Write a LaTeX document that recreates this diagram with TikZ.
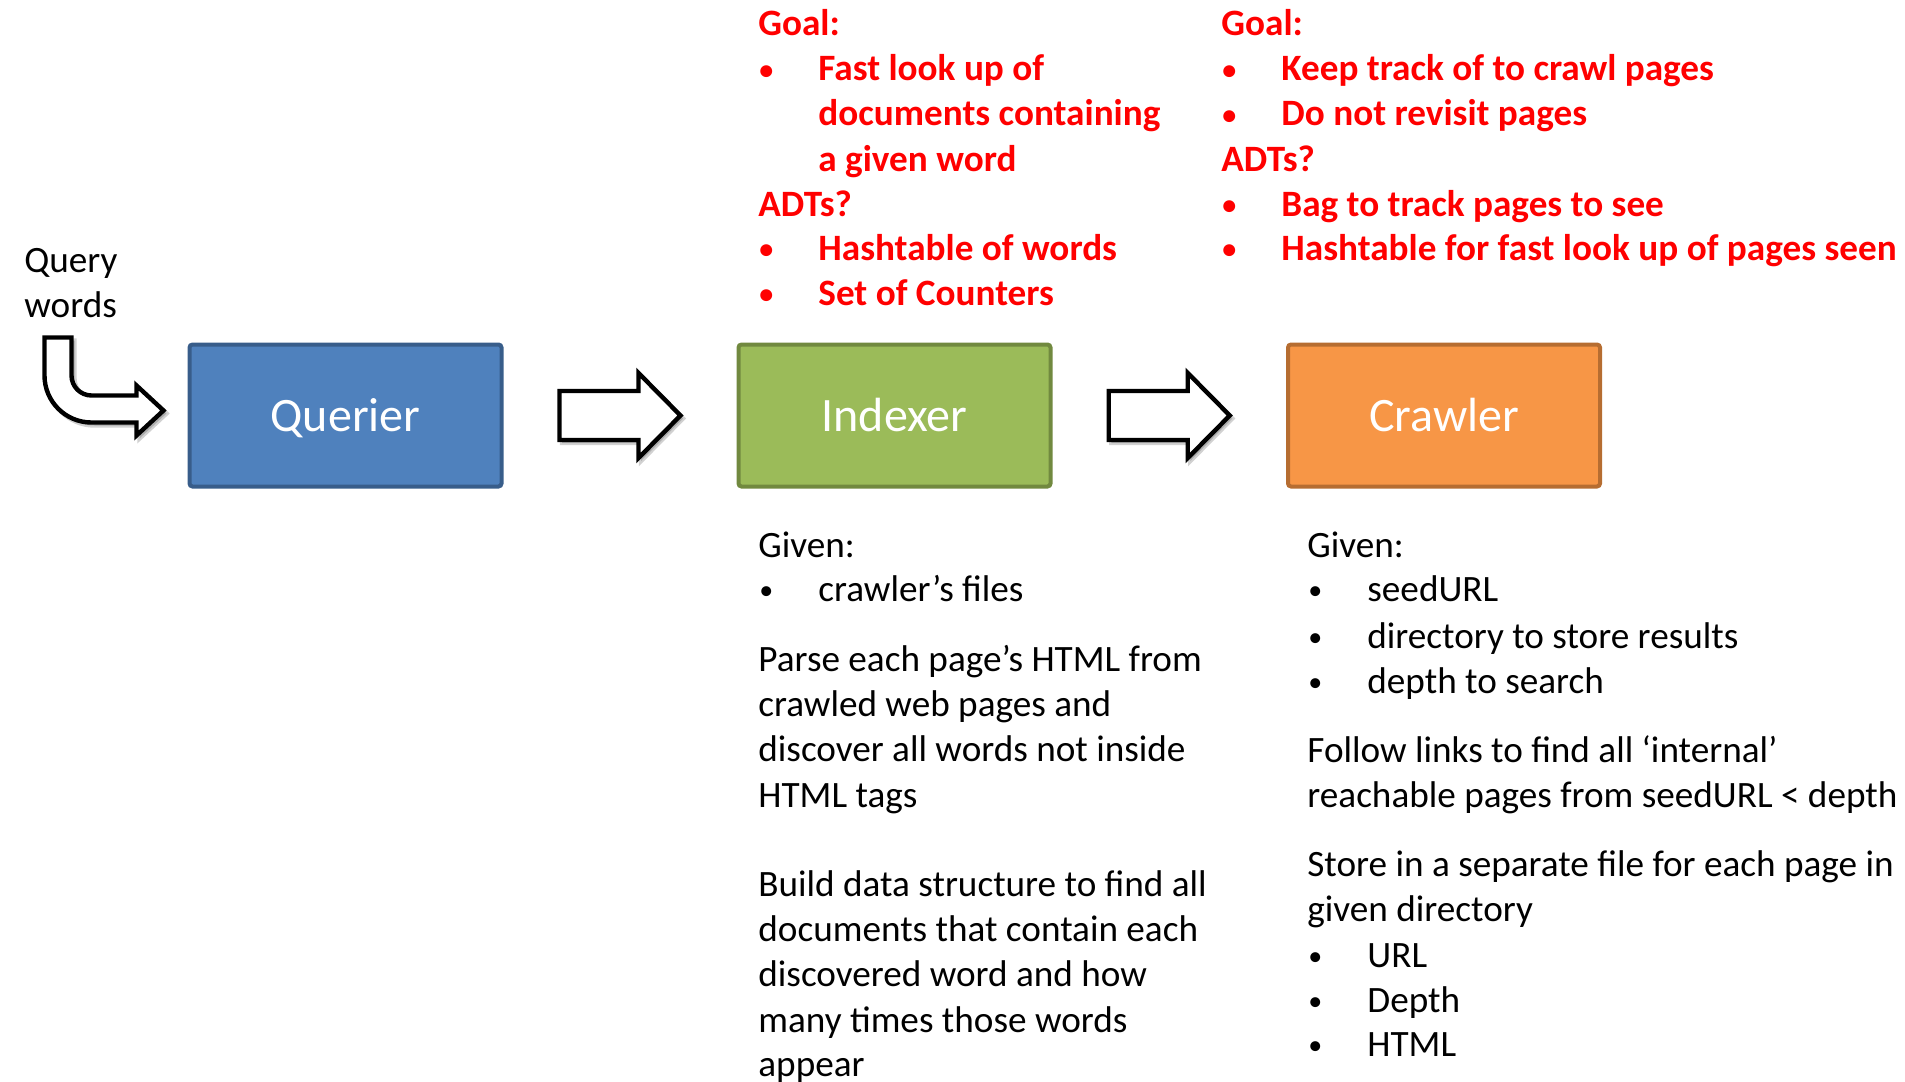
\documentclass[tikz,border=0pt]{standalone}
\usepackage{fontspec}
\setmainfont{Carlito}
\usetikzlibrary{calc}
\definecolor{qfill}{HTML}{4F81BD}\definecolor{qline}{HTML}{385D8A}
\definecolor{ifill}{HTML}{9BBB59}\definecolor{iline}{HTML}{71893F}
\definecolor{cfill}{HTML}{F79646}\definecolor{cline}{HTML}{B66D31}
\definecolor{goalred}{HTML}{FF0000}
\newcommand{\bul}{\makebox[30pt][l]{\hspace{0.5pt}\raisebox{0.8pt}{\fontsize{14}{14}\selectfont •}}}
\tikzset{
  box/.style={draw, line width=2pt, rounded corners=1.5pt, minimum width=156pt, minimum height=71pt,
    inner sep=0pt, text=white, font=\fontsize{24}{28}\selectfont, text height=15.5pt, text depth=0pt},
  ln/.style={anchor=base west, inner sep=0pt, font=\fontsize{18.6}{22.5}\selectfont},
  rl/.style={ln, text=goalred, font=\fontsize{18.6}{22.5}\selectfont\bfseries},
  barrow/.style={draw=black, line width=2.2pt, fill=white, line join=miter},
  bshadow/.style={fill=black, opacity=0.18, draw=black, line width=2.2pt, draw opacity=0.18}
}
\begin{document}
\begin{tikzpicture}[x=0.5pt, y=-0.5pt]
\useasboundingbox (0,0) rectangle (1905,1081);
% boxes
\node[box, fill=qfill, draw=qline] (q)  at (345.5,415.5) {Querier};
\node[box, fill=ifill, draw=iline] (ix) at (894.5,415.5) {Indexer};
\node[box, fill=cfill, draw=cline] (cr) at (1444,415.5) {Crawler};
% block arrows
\coordinate (a1) at ($(q.east)!0.5!(ix.west)$);
\coordinate (a2) at ($(ix.east)!0.5!(cr.west)$);
\foreach \c in {a1,a2}{
  \path[bshadow] (\c) ++(-58,-21.5) -- ++(79,0) -- ++(0,-18) -- ++(42,42.5) -- ++(-42,42.5) -- ++(0,-18) -- ++(-79,0) -- cycle;
  \draw[barrow] (\c) ++(-60.5,-24.5) -- ++(79,0) -- ++(0,-18) -- ++(42,42.5) -- ++(-42,42.5) -- ++(0,-18) -- ++(-79,0) -- cycle;
}
% bent arrow into Querier
\coordinate (qtip) at ($(q.west)+(-24,-5)$);
\path[bshadow] ($(qtip)+(3,3)$) -- ++(-27,-25) -- ++(0,10) -- ++(-45,0) .. controls ++(-11,0) and ++(0,11) .. ++(-20,-20)
  -- ++(0,-38) -- ++(-27,0) -- ++(0,38) .. controls ++(0,26) and ++(-26,0) .. ++(47,47) -- ++(45,0) -- ++(0,13) -- cycle;
\draw[barrow] (qtip) -- ++(-27,-25) -- ++(0,10) -- ++(-45,0) .. controls ++(-11,0) and ++(0,11) .. ++(-20,-20)
  -- ++(0,-38) -- ++(-27,0) -- ++(0,38) .. controls ++(0,26) and ++(-26,0) .. ++(47,47) -- ++(45,0) -- ++(0,13) -- cycle;
\node[ln] (qw1) at (24,272) {Query};
\node[ln] (qw2) at (24,317) {words};
% Indexer goals
\node[rl] (ig1) at (758,36) {Goal:};
\node[rl] (ig2) at (758,81) {\bul Fast look up of};
\node[rl] (ig3) at (818,126) {documents containing};
\node[rl] (ig4) at (818,171) {a given word};
\node[rl] (ig5) at (758,216) {ADTs?};
\node[rl] (ig6) at (758,260) {\bul Hashtable of words};
\node[rl] (ig7) at (758,305) {\bul Set of Counters};
% Crawler goals
\node[rl] (cg1) at (1221,36) {Goal:};
\node[rl] (cg2) at (1221,81) {\bul Keep track of to crawl pages};
\node[rl] (cg3) at (1221,126) {\bul Do not revisit pages};
\node[rl] (cg4) at (1221,171) {ADTs?};
\node[rl] (cg5) at (1221,216) {\bul Bag to track pages to see};
\node[rl] (cg6) at (1221,260) {\bul Hashtable for fast look up of pages seen};
% Indexer description
\node[ln] (id1) at (758,557) {Given:};
\node[ln] (id2) at (758,601) {\bul crawler’s files};
\node[ln] (id3) at (758,671) {Parse each page’s HTML from};
\node[ln] (id4) at (758,716) {crawled web pages and};
\node[ln] (id5) at (758,761) {discover all words not inside};
\node[ln] (id6) at (758,807) {HTML tags};
\node[ln] (id7) at (758,896) {Build data structure to find all};
\node[ln] (id8) at (758,941) {documents that contain each};
\node[ln] (id9) at (758,986) {discovered word and how};
\node[ln] (id10) at (758,1032) {many times those words};
\node[ln] (id11) at (758,1076) {appear};
% Crawler description
\node[ln] (cd1) at (1307,557) {Given:};
\node[ln] (cd2) at (1307,601) {\bul seedURL};
\node[ln] (cd3) at (1307,648) {\bul directory to store results};
\node[ln] (cd4) at (1307,693) {\bul depth to search};
\node[ln] (cd5) at (1307,762) {Follow links to find all ‘internal’};
\node[ln] (cd6) at (1307,807) {reachable pages from seedURL < depth};
\node[ln] (cd7) at (1307,876) {Store in a separate file for each page in};
\node[ln] (cd8) at (1307,921) {given directory};
\node[ln] (cd9) at (1307,967) {\bul URL};
\node[ln] (cd10) at (1307,1012) {\bul Depth};
\node[ln] (cd11) at (1307,1056) {\bul HTML};
\end{tikzpicture}
\end{document}
